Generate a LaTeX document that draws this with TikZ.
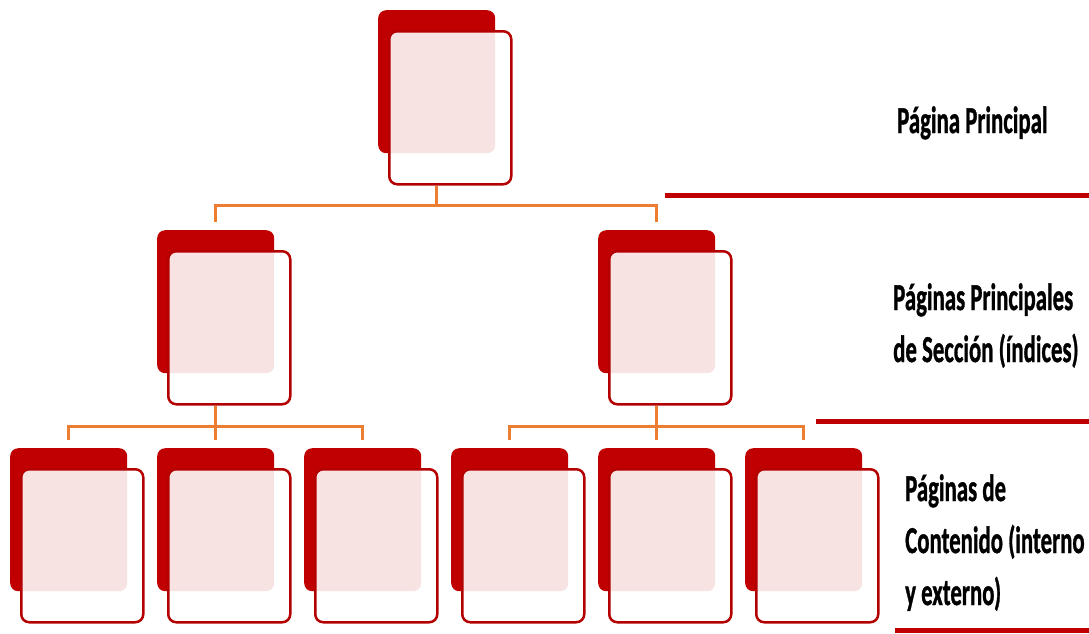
\documentclass[tikz,border=0pt]{standalone}
\usepackage{fontspec}
\setmainfont{Carlito}[BoldFeatures={FakeBold=1.2}]
\usepackage{graphicx}
\definecolor{boxred}{HTML}{C00000}
\definecolor{edgered}{HTML}{B40000}
\definecolor{conn}{HTML}{ED7D31}
\definecolor{rule}{HTML}{C00000}
\newcommand\sx[1]{\scalebox{0.6}[1]{#1}}
\tikzset{
  backbox/.style={draw=none, fill=boxred, rounded corners=8pt, minimum width=117pt, minimum height=143pt, anchor=north west, inner sep=0pt},
  frontbox/.style={draw=edgered, line width=2.5pt, fill=white, fill opacity=0.89, draw opacity=1, rounded corners=8pt, minimum width=122pt, minimum height=153pt, anchor=north west, inner sep=0pt},
  connline/.style={draw=conn, line width=3pt},
  ruleline/.style={draw=rule, line width=5pt},
  lbl/.style={anchor=base west, align=left, inner sep=0pt, font=\bfseries\fontsize{38}{52}\selectfont, text=black}
}
\newcommand\pagebox[3]{%
  \node[backbox] (#1B) at (#2,#3) {};
  \node[frontbox] (#1F) at (#2+10,#3+20) {};
}
\begin{document}
\begin{tikzpicture}[x=1pt,y=-1pt]
\useasboundingbox (0,0) rectangle (1089,633);
\fill[white] (0,0) rectangle (1089,633);
% boxes
\pagebox{top}{378}{10}
\pagebox{sa}{157}{230}
\pagebox{sb}{598}{230}
\pagebox{ca}{10}{448}
\pagebox{cb}{157}{448}
\pagebox{cc}{304}{448}
\pagebox{cd}{451}{448}
\pagebox{ce}{598}{448}
\pagebox{cf}{745}{448}
% connectors
\draw[connline] (topF.south -| topB.south) -- ++(0,20) coordinate (j0);
\draw[connline] ([yshift=8pt]saB.north) |- (j0) -| ([yshift=8pt]sbB.north);
\draw[connline] (saF.south -| saB.south) -- ++(0,21) coordinate (j1);
\draw[connline] ([yshift=8pt]caB.north) |- (j1) -| ([yshift=8pt]ccB.north);
\draw[connline] (j1) -- ([yshift=8pt]cbB.north);
\draw[connline] (sbF.south -| sbB.south) -- ++(0,21) coordinate (j2);
\draw[connline] ([yshift=8pt]cdB.north) |- (j2) -| ([yshift=8pt]cfB.north);
\draw[connline] (j2) -- ([yshift=8pt]ceB.north);
% rules
\coordinate (r1a) at (665,195); \coordinate (r1b) at (1089,195);
\coordinate (r2a) at (816,421); \coordinate (r2b) at (1089,421);
\coordinate (r3a) at (895,630); \coordinate (r3b) at (1089,630);
\draw[ruleline] (r1a) -- (r1b);
\draw[ruleline] (r2a) -- (r2b);
\draw[ruleline] (r3a) -- (r3b);
% labels
\node[lbl] (l1) at (897,133) {\sx{Página Principal}};
\node[lbl] (l2) at (893,362) {\sx{Páginas Principales}\\\sx{de Sección (índices)}};
\node[lbl] (l3) at (905,605) {\sx{Páginas de}\\\sx{Contenido (interno}\\\sx{y externo)}};
\end{tikzpicture}
\end{document}
